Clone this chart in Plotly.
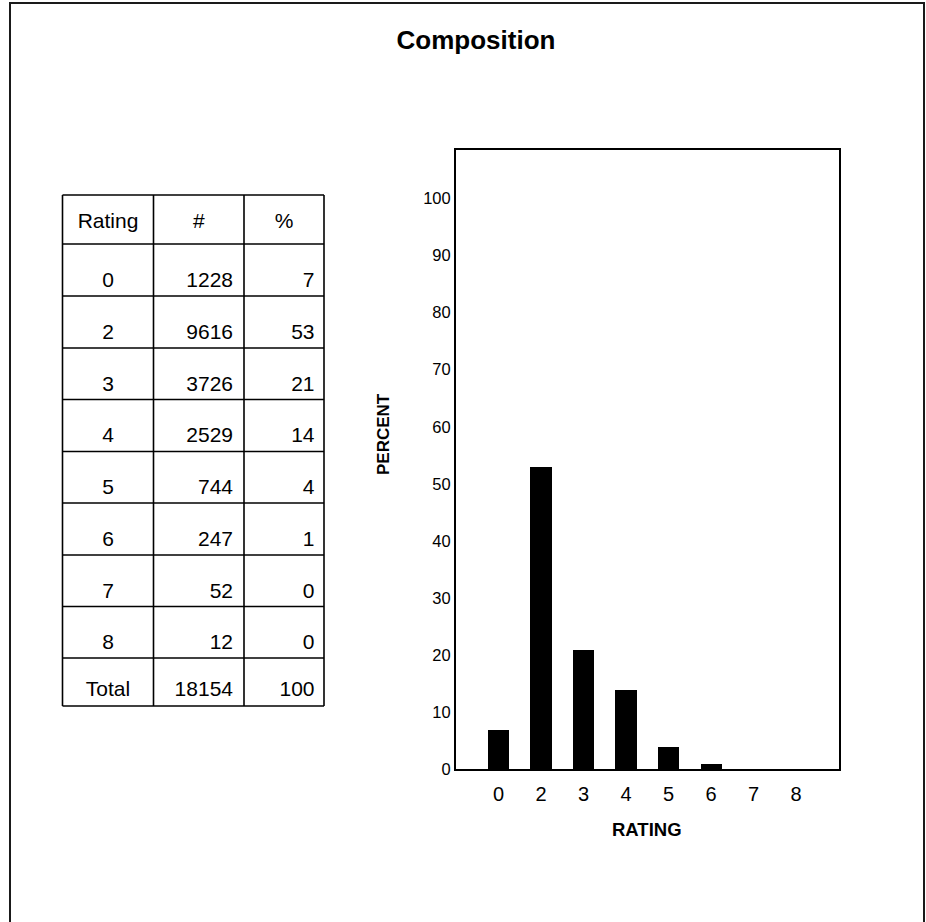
import plotly.graph_objects as go

W, H = 926, 922

# ---------------- data ----------------
title_text = "Composition"
ratings = ["0", "2", "3", "4", "5", "6", "7", "8"]
counts = [1228, 9616, 3726, 2529, 744, 247, 52, 12]
percents = [7, 53, 21, 14, 4, 1, 0, 0]
total_label = "Total"
total_count = 18154
total_percent = 100
table_header = ["Rating", "#", "%"]
y_ticks = list(range(0, 101, 10))
x_title = "RATING"
y_title = "PERCENT"

# ---------------- layout constants (pixels) ----------------
PLOT_L, PLOT_R, PLOT_T, PLOT_B = 456, 838.7, 149.5, 769
Y_MAX = 108.6
col_edges = [62.5, 153.5, 244, 324]
row_edges = [195, 244, 296, 348, 399.5, 451.5, 503, 555, 606.5, 658, 706]
FONT = "Liberation Sans, Arial, sans-serif"
TABLE_FS = 21
TEXT_DROP = 11.5
PAD_R = 11

fig = go.Figure()

fig.add_trace(go.Bar(
    x=ratings, y=percents, width=0.5,
    marker=dict(color="black", line=dict(width=0)),
    xaxis="x", yaxis="y", showlegend=False, hoverinfo="x+y",
))

rows_first = ratings + [total_label]
rows_count = [str(c) for c in counts] + [str(total_count)]
rows_pct = [str(p) for p in percents] + [str(total_percent)]

def cy(i, drop):
    return (row_edges[i] + row_edges[i + 1]) / 2 + drop

hx = [(col_edges[j] + col_edges[j + 1]) / 2 for j in range(3)]
fig.add_trace(go.Scatter(
    x=hx, y=[cy(0, 3)] * 3, mode="text", text=table_header,
    textposition="middle center", textfont=dict(size=TABLE_FS, color="black", family=FONT),
    xaxis="x2", yaxis="y2", showlegend=False, hoverinfo="skip",
))
n = len(rows_first)
drops = [TEXT_DROP] * (n - 1) + [9]
ys = [cy(i + 1, drops[i]) for i in range(n)]
fig.add_trace(go.Scatter(
    x=[hx[0]] * n, y=ys, mode="text", text=rows_first,
    textposition="middle center", textfont=dict(size=TABLE_FS, color="black", family=FONT),
    xaxis="x2", yaxis="y2", showlegend=False, hoverinfo="skip",
))
fig.add_trace(go.Scatter(
    x=[col_edges[2] - PAD_R] * n, y=ys, mode="text", text=rows_count,
    textposition="middle left", textfont=dict(size=TABLE_FS, color="black", family=FONT),
    xaxis="x2", yaxis="y2", showlegend=False, hoverinfo="skip",
))
fig.add_trace(go.Scatter(
    x=[col_edges[3] - PAD_R + 1.5] * n, y=ys, mode="text", text=rows_pct,
    textposition="middle left", textfont=dict(size=TABLE_FS, color="black", family=FONT),
    xaxis="x2", yaxis="y2", showlegend=False, hoverinfo="skip",
))

shapes = []
for xe in col_edges:
    shapes.append(dict(type="line", xref="x2", yref="y2", x0=xe, x1=xe,
                       y0=row_edges[0], y1=row_edges[-1], line=dict(color="black", width=1.6)))
for ye in row_edges:
    shapes.append(dict(type="line", xref="x2", yref="y2", x0=col_edges[0], x1=col_edges[-1],
                       y0=ye, y1=ye, line=dict(color="black", width=1.6)))
shapes.append(dict(type="rect", xref="paper", yref="paper",
                   x0=10 / W, x1=924 / W, y0=-0.05, y1=1 - 3 / H,
                   line=dict(color="#1a1a1a", width=2)))

annotations = [
    dict(text="<b>" + y_title + "</b>", xref="paper", yref="paper",
         x=383 / W, y=1 - 434 / H, showarrow=False, textangle=-90,
         font=dict(size=17, color="black", family=FONT), xanchor="center", yanchor="middle"),
    dict(text="<b>" + x_title + "</b>", xref="paper", yref="paper",
         x=(PLOT_L + PLOT_R) / 2 / W, y=1 - 829 / H, showarrow=False,
         font=dict(size=18.5, color="black", family=FONT), xanchor="center", yanchor="middle"),
]

fig.update_layout(
    width=W, height=H, autosize=False,
    margin=dict(l=0, r=0, t=0, b=0, pad=0, autoexpand=False),
    paper_bgcolor="white", plot_bgcolor="rgba(0,0,0,0)",
    font=dict(family=FONT, color="black"),
    title=dict(text="<b>" + title_text + "</b>", x=476 / W, y=1 - 40 / H,
               xanchor="center", yanchor="middle",
               font=dict(size=26, color="black", family=FONT)),
    xaxis=dict(domain=[PLOT_L / W, PLOT_R / W], type="category", range=[-1, len(ratings)],
               showline=True, linecolor="black", linewidth=2, mirror=True,
               showgrid=False, zeroline=False, ticks="", ticklabelstandoff=6,
               tickfont=dict(size=20, color="black", family=FONT)),
    yaxis=dict(domain=[1 - PLOT_B / H, 1 - PLOT_T / H], range=[0, Y_MAX],
               tickvals=y_ticks, showline=True, linecolor="black", linewidth=2, mirror=True,
               showgrid=False, zeroline=False, ticks="", ticklabelstandoff=0,
               tickfont=dict(size=16.5, color="black", family=FONT)),
    xaxis2=dict(domain=[0, 0.45], range=[0, 0.45 * W], visible=False, fixedrange=True),
    yaxis2=dict(domain=[0, 1], range=[H, 0], visible=False, fixedrange=True, anchor="x2"),
    shapes=shapes,
    annotations=annotations,
    bargap=0,
)

fig.write_html(
    "out.html",
    config={"displayModeBar": False, "responsive": False},
    post_script="document.body.style.margin='0';document.body.style.overflow='hidden';",
)
